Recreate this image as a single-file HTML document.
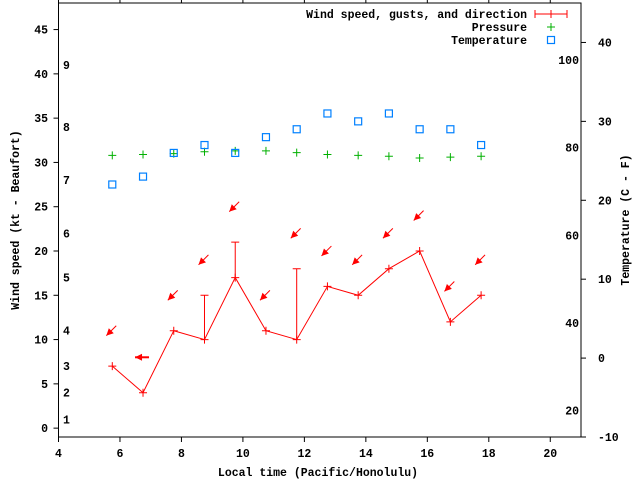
<!DOCTYPE html>
<html><head><meta charset="utf-8"><style>
body{margin:0;background:#fff}
svg text{font-family:"Liberation Mono","DejaVu Sans Mono",monospace;font-weight:bold;font-size:11.5px;fill:#000}
</style></head><body>
<svg id="chart" width="640" height="480" viewBox="0 0 640 480" xmlns="http://www.w3.org/2000/svg">
<g id="axes"></g>
<g id="marks"></g>
<g id="legend"></g>
<text transform="translate(19,220) rotate(-90)" text-anchor="middle">Wind speed (kt - Beaufort)</text>
<text transform="translate(629,220) rotate(-90)" text-anchor="middle">Temperature (C - F)</text>
<text x="318" y="476" text-anchor="middle">Local time (Pacific/Honolulu)</text>
</svg>
<script>
const times=[5.75,6.75,7.75,8.75,9.75,10.75,11.75,12.75,13.75,14.75,15.75,16.75,17.75];
const windSpeed=[7,4,11,10,17,11,10,16,15,18,20,12,15];
const gusts=[null,null,null,15,21,null,18,null,null,null,null,null,null];
const windDir=[45,90,45,45,45,45,45,45,45,45,45,45,45];
const pressure=[30.8,30.9,31.0,31.2,31.3,31.3,31.1,30.9,30.8,30.7,30.5,30.6,30.7];
const tempC=[22,23,26,27,26,28,29,31,30,31,29,29,27];
const xTicks=[4,6,8,10,12,14,16,18,20];
const yTicks=[0,5,10,15,20,25,30,35,40,45];
const y2Ticks=[-10,0,10,20,30,40];
const fTicks=[20,40,60,80,100];
const beaufortLabels=["1","2","3","4","5","6","7","8","9"];
const beaufortKt=[1,4,7,11,17,22,28,34,41];

const L=58.5,R=581,T=3,B=437;
const sx=v=>L+(v-4)/(21-4)*(R-L);
const sy=v=>B-(v+1)/(48+1)*(B-T);
const sy2=c=>B-(c+10)/(45+10)*(B-T);
const NS='http://www.w3.org/2000/svg';
function mk(tag,attrs,parent){const e=document.createElementNS(NS,tag);for(const k in attrs)e.setAttribute(k,attrs[k]);parent.appendChild(e);return e;}
const ax=document.getElementById('axes'),mg=document.getElementById('marks'),lg=document.getElementById('legend');
let e=mk('rect',{x:L,y:T,width:R-L,height:B-T,fill:'none',stroke:'#000','stroke-width':1},ax);

xTicks.forEach(v=>{const x=sx(v);
 mk('line',{x1:x,y1:B,x2:x,y2:B+5,stroke:'#000'},ax);mk('line',{x1:x,y1:T,x2:x,y2:T-4,stroke:'#000'},ax);
 const t=mk('text',{x:x,y:457,'text-anchor':'middle'},ax);t.textContent=v;
 });
yTicks.forEach(v=>{const y=sy(v);mk('line',{x1:L,y1:y,x2:L-5,y2:y,stroke:'#000'},ax);
 const t=mk('text',{x:48,y:y+4,'text-anchor':'end'},ax);t.textContent=v;
 });
y2Ticks.forEach(v=>{const y=sy2(v);mk('line',{x1:R,y1:y,x2:R+5,y2:y,stroke:'#000'},ax);
 const t=mk('text',{x:598,y:y+4,'text-anchor':'start'},ax);t.textContent=v;
 });
fTicks.forEach(v=>{const y=sy2((v-32)*5/9);
 const t=mk('text',{x:579,y:y+4,'text-anchor':'end'},ax);t.textContent=v;
 });
beaufortLabels.forEach((s,i)=>{const t=mk('text',{x:63,y:sy(beaufortKt[i])+4},ax);t.textContent=s;
 });
const red='#f00';
let pts=times.map((t,i)=>sx(t)+','+sy(windSpeed[i])).join(' ');
e=mk('polyline',{points:pts,fill:'none',stroke:red,'stroke-width':1},mg);

times.forEach((t,i)=>{const x=sx(t),y=sy(windSpeed[i]);
 const g=mk('g',{},mg);
 mk('path',{d:`M${x-4},${y}h8M${x},${y-4}v8`,stroke:red},g);
 if(gusts[i]!=null){const gy=sy(gusts[i]);
  const gb=mk('path',{d:`M${x},${y}V${gy}M${x-4},${gy}h8`,stroke:red,fill:'none'},mg);
  }
 const top=Math.max(windSpeed[i],gusts[i]||0)+4;
 const cx=x-1,cy=sy(top),a=windDir[i]*Math.PI/180,len=14;
 const dx=-Math.sin(a),dy=Math.cos(a);
 const x1=cx-dx*len/2,y1=cy-dy*len/2,x2=cx+dx*len/2,y2=cy+dy*len/2;
 const px=-dy,py=dx,h=7;
 const ar=mk('g',{},mg);
 mk('line',{x1:x1,y1:y1,x2:x2,y2:y2,stroke:red,'stroke-width':windDir[i]==90?2:1},ar);
 mk('polygon',{points:`${x2},${y2} ${x2-dx*h+px*h/2},${y2-dy*h+py*h/2} ${x2-dx*h-px*h/2},${y2-dy*h-py*h/2}`,fill:red},ar);
});
times.forEach((t,i)=>{const x=sx(t),y=sy(pressure[i]);
 const p=mk('path',{d:`M${x-4},${y}h8M${x},${y-4}v8`,stroke:'#00b000'},mg);
 });
times.forEach((t,i)=>{const x=sx(t),y=sy2(tempC[i]);
 const r=mk('rect',{x:x-3.5,y:y-3.5,width:7,height:7,fill:'none',stroke:'#0080ff','stroke-width':1.2},mg);
 });
const lt=[['Wind speed, gusts, and direction',14],['Pressure',27],['Temperature',40]];
lt.forEach(([s,y])=>{const t=mk('text',{x:527,y:y+4,'text-anchor':'end'},lg);t.textContent=s;
 });
mk('path',{d:'M535,14h32M535,10v8M567,10v8M551,10v8',stroke:red,fill:'none'},lg);
mk('path',{d:'M547,27h8M551,23v8',stroke:'#00b000'},lg);
mk('rect',{x:547.5,y:36.5,width:7,height:7,fill:'none',stroke:'#0080ff','stroke-width':1.2},lg);
</script>
</body></html>
